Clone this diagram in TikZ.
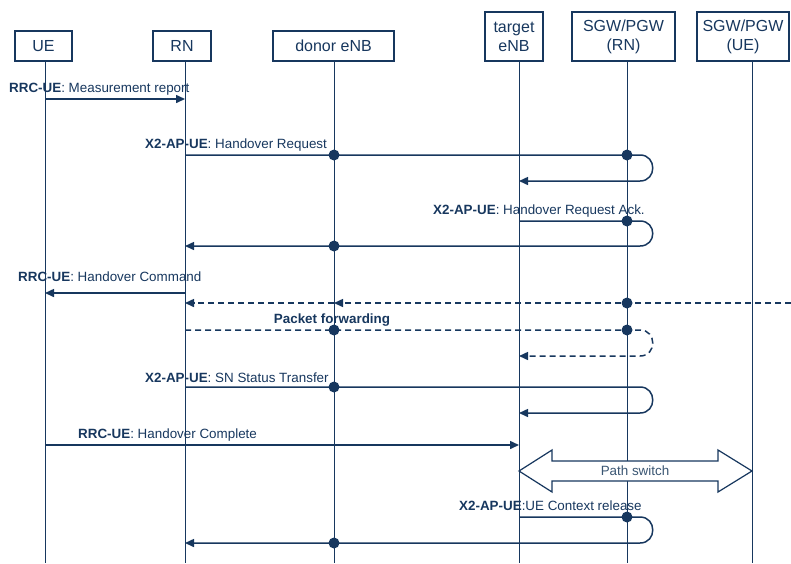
\documentclass[tikz,border=0pt]{standalone}
\usepackage{fontspec}
\setmainfont{Liberation Sans}
\usepackage{xcolor}
\usetikzlibrary{arrows.meta,positioning,calc}
\definecolor{hoblue}{HTML}{17375E}
\definecolor{hogray}{HTML}{3A5673}

\begin{document}
\begin{tikzpicture}[x=1pt,y=-1pt,
  ent/.style={draw=hoblue,fill=white,line width=1.2pt,align=center,text=hoblue,font=\fontsize{16}{19}\selectfont,inner sep=0pt},
  life/.style={draw=hoblue,line width=1pt},
  msg/.style={draw=hoblue,line width=1.5pt},
  dmsg/.style={msg,dash pattern=on 6pt off 4pt},
  lbl/.style={anchor=base west,text=hoblue,font=\fontsize{13.4}{15}\selectfont,inner sep=0pt},
  >={Triangle[length=9pt,width=8pt]}]
  \useasboundingbox (0,0) rectangle (791,563);
  % lifelines and the points where messages meet them
  \foreach \n/\x in {ue/45,rn/185,denb/334,tenb/519,sgwrn/627,sgwue/752}{
    \draw[life] (\x,61) -- (\x,563);
    \foreach \r/\y in {1/99,2/155,3/181,4/221,5/246,6/293,7/303,8/330,9/356,10/387,11/413,12/445,13/517,14/543}
      \coordinate (\n-\r) at (\x,\y);
  }
  % entities
  \node[ent,minimum width=57pt,minimum height=30pt] (ue) at (43.5,46) {UE};
  \node[ent,minimum width=58pt,minimum height=30pt] (rn) at (182,46) {RN};
  \node[ent,minimum width=121pt,minimum height=30pt] (denb) at (333.5,46) {donor eNB};
  \node[ent,minimum width=58pt,minimum height=49pt] (tenb) at (514,36.5) {target\\eNB};
  \node[ent,minimum width=103pt,minimum height=49pt] (sgwrn) at (623.5,36.5) {SGW/PGW\\(RN)};
  \node[ent,minimum width=92pt,minimum height=49pt] (sgwue) at (743,36.5) {SGW/PGW\\(UE)};
  % messages
  \draw[msg,->] (ue-1) -- (rn-1);
  \draw[msg,->] (rn-2) -- ([xshift=13pt]sgwrn-2) .. controls +(17,0) and +(17,0) .. ([xshift=13pt]sgwrn-3) -- (tenb-3);
  \draw[msg,->] (tenb-4) -- ([xshift=13pt]sgwrn-4) .. controls +(17,0) and +(17,0) .. ([xshift=13pt]sgwrn-5) -- (rn-5);
  \draw[msg,->] (rn-6) -- (ue-6);
  \coordinate (edge) at (791,303);
  \draw[dmsg,->] (edge) -- (denb-7); \draw[dmsg,->] (denb-7) -- (rn-7);
  \draw[dmsg,->] (rn-8) -- ([xshift=13pt]sgwrn-8) .. controls +(17,0) and +(17,0) .. ([xshift=13pt]sgwrn-9) -- (tenb-9);
  \draw[msg,->] (rn-10) -- ([xshift=13pt]sgwrn-10) .. controls +(17,0) and +(17,0) .. ([xshift=13pt]sgwrn-11) -- (tenb-11);
  \draw[msg,->] (ue-12) -- (tenb-12);
  \draw[msg,->] (tenb-13) -- ([xshift=13pt]sgwrn-13) .. controls +(17,0) and +(17,0) .. ([xshift=13pt]sgwrn-14) -- (rn-14);
  \foreach \p in {denb-2,sgwrn-2,sgwrn-4,denb-5,sgwrn-7,denb-8,sgwrn-8,denb-10,sgwrn-13,denb-14}
    \fill[hoblue] (\p) circle (5.5pt);
  % path switch
  \draw[line width=1.2pt,draw=hoblue,fill=white] (519,471) -- (552,450) -- (552,461) -- (718,461) -- (718,450) -- (752,471) -- (718,492) -- (718,481) -- (552,481) -- (552,492) -- cycle;
  \node[text=hogray,font=\fontsize{13.4}{15}\selectfont] (ps) at (635,471) {Path switch};
  % labels
  \node[lbl] (l1) at (9,92) {\textbf{RRC-UE}: Measurement report};
  \node[lbl] (l2) at (145,148) {\textbf{X2-AP-UE}: Handover Request};
  \node[lbl] (l3) at (433,214) {\textbf{X2-AP-UE}: Handover Request Ack.};
  \node[lbl] (l4) at (18,281) {\textbf{RRC-UE}: Handover Command};
  \node[lbl,anchor=base] (l5) at (332,323) {\textbf{Packet forwarding}};
  \node[lbl] (l6) at (145,382) {\textbf{X2-AP-UE}: SN Status Transfer};
  \node[lbl] (l7) at (78,438) {\textbf{RRC-UE}: Handover Complete};
  \node[lbl] (l8) at (459,510) {\textbf{X2-AP-UE}:UE Context release};
\end{tikzpicture}
\end{document}
